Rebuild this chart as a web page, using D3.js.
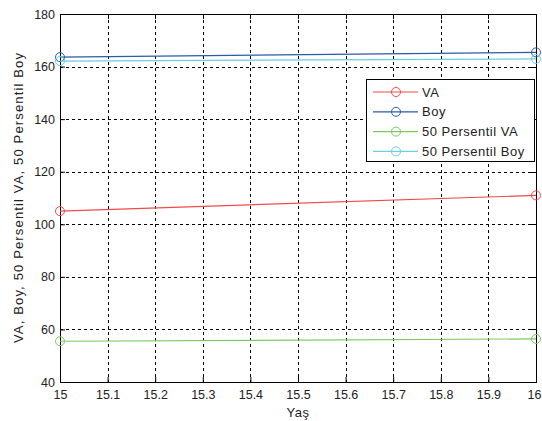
<!DOCTYPE html>
<html>
<head>
<meta charset="utf-8">
<script src="https://d3js.org/d3.v7.min.js"></script>
<style>
body { margin: 0; background: #fff; }
text { font-family: "Liberation Sans", Arial, sans-serif; }
</style>
</head>
<body>
<div id="chart"></div>
<script>
// data
var ages = [15, 16];
var vaValues = [105, 111];
var boyValues = [163.6, 165.4];
var p50VaValues = [55.5, 56.4];
var p50BoyValues = [162.1, 162.9];
var seriesNames = ["VA", "Boy", "50 Persentil VA", "50 Persentil Boy"];
var seriesColors = ["#f04a4a", "#2a5aa8", "#7cca5e", "#6ccfdf"];
var xTicks = [15, 15.1, 15.2, 15.3, 15.4, 15.5, 15.6, 15.7, 15.8, 15.9, 16];
var yTicks = [40, 60, 80, 100, 120, 140, 160, 180];

var W = 542, H = 421;
var pLeft = 60, pRight = 536, pTop = 14, pBottom = 382;

var svg = d3.select("#chart").append("svg")
    .attr("width", W)
    .attr("height", H);

var x = d3.scaleLinear().domain([15, 16]).range([pLeft, pRight]);
var y = d3.scaleLinear().domain([40, 180]).range([pBottom, pTop]);

// grid
var grid = svg.append("g");
grid.selectAll(".gx").data(xTicks.slice(1, -1)).enter().append("line")
    .attr("x1", d => Math.round(x(d)) + 0.5).attr("x2", d => Math.round(x(d)) + 0.5)
    .attr("y1", pTop).attr("y2", pBottom)
    .attr("stroke", "#000").attr("stroke-dasharray", "3,3");
grid.selectAll(".gy").data(yTicks.slice(1, -1)).enter().append("line")
    .attr("y1", d => Math.round(y(d)) + 0.5).attr("y2", d => Math.round(y(d)) + 0.5)
    .attr("x1", pLeft).attr("x2", pRight)
    .attr("stroke", "#000").attr("stroke-dasharray", "3,3");

// axes
var xAxis = svg.append("g")
    .attr("transform", "translate(0," + pBottom + ")")
    .call(d3.axisBottom(x).tickValues(xTicks).tickSize(-5).tickPadding(8)
        .tickFormat(d3.format("")));
var yAxis = svg.append("g")
    .attr("transform", "translate(" + pLeft + ",0)")
    .call(d3.axisLeft(y).tickValues(yTicks).tickSize(-5).tickPadding(5));
[xAxis, yAxis].forEach(function (a) {
    a.select(".domain").remove();
    a.selectAll("line").attr("stroke", "#000");
    a.selectAll("text").attr("font-size", 12.5).attr("fill", "#222")
        .attr("font-family", "'Liberation Sans', Arial, sans-serif");
});
// keep the last x label inside the window
xAxis.selectAll(".tick text").filter(d => d === 16).attr("dx", -2);

// top / right ticks
svg.append("g").selectAll("line").data(xTicks).enter().append("line")
    .attr("x1", d => Math.round(x(d)) + 0.5).attr("x2", d => Math.round(x(d)) + 0.5)
    .attr("y1", pTop).attr("y2", pTop + 5).attr("stroke", "#000");
svg.append("g").selectAll("line").data(yTicks).enter().append("line")
    .attr("y1", d => Math.round(y(d)) + 0.5).attr("y2", d => Math.round(y(d)) + 0.5)
    .attr("x1", pRight).attr("x2", pRight - 5).attr("stroke", "#000");

svg.append("rect")
    .attr("x", pLeft + 0.5).attr("y", pTop + 0.5)
    .attr("width", pRight - pLeft).attr("height", pBottom - pTop)
    .attr("fill", "none").attr("stroke", "#000");

// series
var allSeries = [vaValues, boyValues, p50VaValues, p50BoyValues];
var line = d3.line().x((d, i) => x(ages[i])).y(d => y(d));
allSeries.forEach(function (vals, k) {
    var g = svg.append("g");
    g.append("path").datum(vals)
        .attr("d", line)
        .attr("fill", "none")
        .attr("stroke", seriesColors[k])
        .attr("stroke-width", 1.2);
    g.selectAll("circle").data(vals).enter().append("circle")
        .attr("cx", (d, i) => x(ages[i]))
        .attr("cy", d => y(d))
        .attr("r", 4.5)
        .attr("fill", "none")
        .attr("stroke", seriesColors[k]);
});

// legend
var lg = svg.append("g");
lg.append("rect")
    .attr("x", 366.5).attr("y", 79.5)
    .attr("width", 168).attr("height", 82)
    .attr("fill", "#fff").attr("stroke", "#000");
seriesNames.forEach(function (name, k) {
    var ly = 92 + k * 19.8;
    lg.append("line")
        .attr("x1", 373).attr("x2", 418)
        .attr("y1", ly).attr("y2", ly)
        .attr("stroke", seriesColors[k]).attr("stroke-width", 1.2);
    lg.append("circle")
        .attr("cx", 396).attr("cy", ly).attr("r", 4.5)
        .attr("fill", "none").attr("stroke", seriesColors[k]);
    lg.append("text")
        .attr("x", 422).attr("y", ly + 4.5)
        .attr("font-size", 13).attr("fill", "#222")
        .attr("letter-spacing", 0.5)
        .text(name);
});

// axis labels
svg.append("text")
    .attr("x", (pLeft + pRight) / 2).attr("y", 417)
    .attr("text-anchor", "middle").attr("font-size", 13).attr("fill", "#222")
    .attr("letter-spacing", 0.5)
    .text("Yaş");
svg.append("text")
    .attr("transform", "translate(23," + ((pTop + pBottom) / 2) + ") rotate(-90)")
    .attr("text-anchor", "middle").attr("font-size", 13).attr("fill", "#222")
    .attr("textLength", 290).attr("lengthAdjust", "spacing")
    .text("VA, Boy, 50 Persentil VA, 50 Persentil Boy");
</script>
</body>
</html>
